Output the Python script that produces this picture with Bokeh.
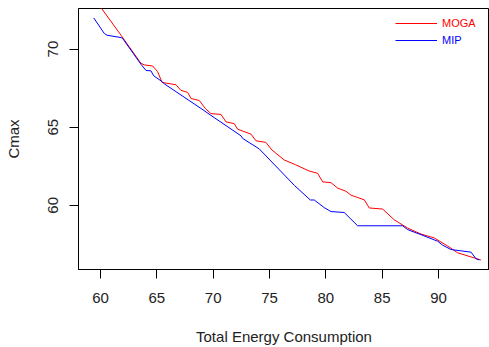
from bokeh.plotting import figure
from bokeh.models import FixedTicker, Legend, LegendItem
from bokeh.embed import file_html
from bokeh.resources import INLINE

# MOGA (red)
moga_x = [59.9, 61.82, 63.59, 63.89, 64.63, 65.07, 65.46, 66.26, 66.7, 67.14, 67.74, 68.03,
          68.77, 69.3, 69.8, 70.69, 71.14, 71.87, 72.17, 73.35, 73.8, 74.68, 75.2, 76.31,
          77.3, 78.5, 79.27, 79.72, 80.45, 81.05, 81.78, 82.23, 83.41, 83.85, 85.04, 86.07,
          87.26, 88.44, 89.62, 90.81, 91.69, 93.76]
moga_y = [72.8, 70.89, 69.09, 68.99, 68.92, 68.56, 67.87, 67.77, 67.72, 67.36, 67.23, 66.84,
          66.71, 66.2, 65.87, 65.82, 65.34, 65.23, 64.87, 64.56, 64.13, 64.03, 63.55, 62.9,
          62.6, 62.2, 62.05, 61.5, 61.45, 61.1, 60.9, 60.65, 60.35, 59.83, 59.76, 59.07,
          58.54, 58.16, 57.91, 57.39, 56.96, 56.5]

# MIP (blue)
mip_x = [59.40, 60.34, 60.58, 61.82, 61.97, 63.59, 64.04, 64.48, 64.72, 65.37, 65.66, 68.92,
         70.10, 72.47, 72.62, 74.09, 77.2, 78.62, 78.97, 79.86, 80.45, 81.63, 82.82, 86.81,
         87.26, 88.44, 89.92, 90.36, 91.10, 92.88, 93.32, 93.61]
mip_y = [72.0, 71.0, 70.89, 70.74, 70.68, 69.03, 68.63, 68.61, 68.29, 67.97, 67.78, 66.2,
         65.61, 64.45, 64.28, 63.61, 61.28, 60.34, 60.34, 59.85, 59.6, 59.54, 58.69, 58.69,
         58.44, 58.12, 57.70, 57.45, 57.17, 57.0, 56.58, 56.5]

x_ticks = [60, 65, 70, 75, 80, 85, 90]
y_ticks = [60, 65, 70]

FONT = "Liberation Sans"

p = figure(width=489, height=347, output_backend="svg", toolbar_location=None,
           x_range=(58.05, 94.52), y_range=(55.89, 72.6),
           min_border_left=78, min_border_right=0, min_border_top=8, min_border_bottom=75)

p.background_fill_color = "white"
p.border_fill_color = "white"
p.outline_line_color = "black"
p.outline_line_width = 1
p.grid.visible = False

r_moga = p.line(moga_x, moga_y, line_color="#FF0000", line_width=1)
r_mip = p.line(mip_x, mip_y, line_color="#0000FF", line_width=1)

for ax in (p.xaxis[0], p.yaxis[0]):
    ax.major_tick_out = 9
    ax.major_tick_in = 0
    ax.minor_tick_line_color = None
    ax.axis_line_color = "black"
    ax.major_tick_line_color = "black"
    ax.major_label_text_font = FONT
    ax.major_label_text_font_size = "15px"
    ax.major_label_text_color = "#222222"
    ax.axis_label_text_font = FONT
    ax.axis_label_text_font_size = "15px"
    ax.axis_label_text_font_style = "normal"
    ax.axis_label_text_color = "#222222"

p.xaxis.ticker = FixedTicker(ticks=x_ticks)
p.yaxis.ticker = FixedTicker(ticks=y_ticks)
p.xaxis.axis_label = "Total Energy Consumption"
p.yaxis.axis_label = "Cmax"
p.xaxis.major_label_standoff = 14
p.xaxis.axis_label_standoff = 22
p.yaxis.major_label_orientation = "vertical"
p.yaxis.major_label_standoff = 11
p.yaxis.axis_label_standoff = 24

leg1 = Legend(items=[LegendItem(label="MOGA", renderers=[r_moga])],
              location=(317, 240), label_text_color="#FF0000",
              label_text_font=FONT, label_text_font_size="11px",
              glyph_width=42, glyph_height=10, padding=0, margin=0,
              label_standoff=5, background_fill_alpha=0, border_line_color=None)
leg2 = Legend(items=[LegendItem(label="MIP", renderers=[r_mip])],
              location=(317, 223), label_text_color="#0000FF",
              label_text_font=FONT, label_text_font_size="11px",
              glyph_width=42, glyph_height=10, padding=0, margin=0,
              label_standoff=5, background_fill_alpha=0, border_line_color=None)
p.add_layout(leg1, "center")
p.add_layout(leg2, "center")

open("out.html", "w").write(file_html(p, INLINE))
